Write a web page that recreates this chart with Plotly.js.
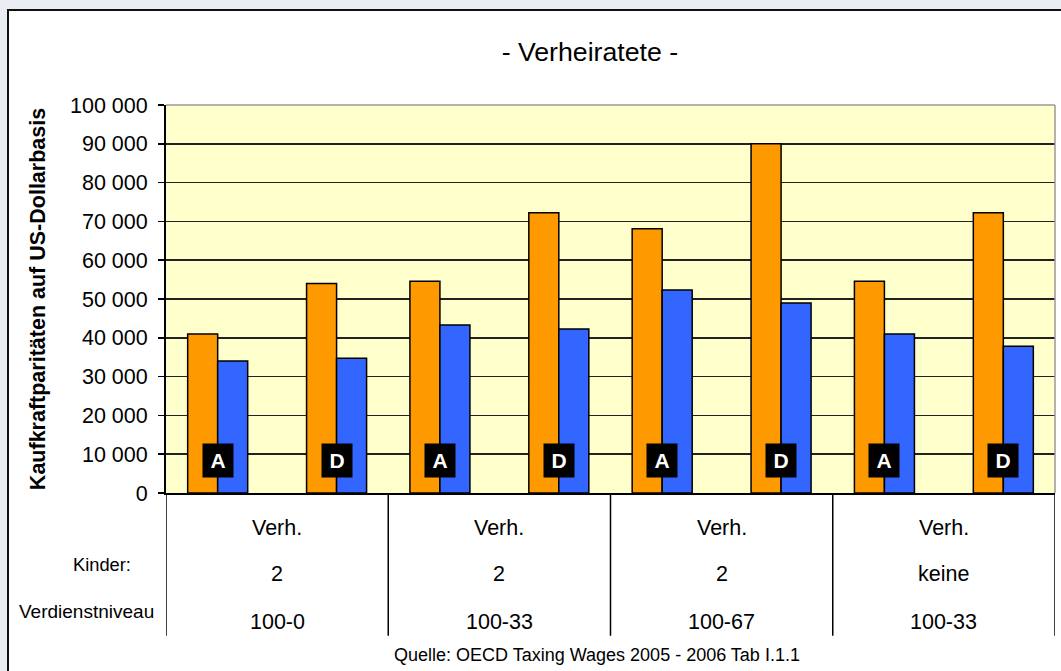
<!DOCTYPE html>
<html>
<head>
<meta charset="utf-8">
<script src="https://cdn.plot.ly/plotly-3.0.1.min.js"></script>
<style>
html,body{margin:0;padding:0;background:#EBEDF5;overflow:hidden;width:1061px;height:671px;}
#frame{position:absolute;left:7px;top:9px;width:1100px;height:720px;background:#fff;border-left:2px solid #111;border-top:2px solid #111;}
#chart{position:absolute;left:0;top:0;width:1061px;height:671px;}
</style>
</head>
<body>
<div id="frame"></div>
<div id="chart"></div>
<script>
// ---- data ----
const barLabels = ['A', 'D', 'A', 'D', 'A', 'D', 'A', 'D'];
const orangeValues = [41000, 54000, 54600, 72200, 68100, 90000, 54600, 72200];
const blueValues = [34000, 34700, 43300, 42300, 52300, 49000, 41000, 37800];
const status = ['Verh.', 'Verh.', 'Verh.', 'Verh.'];
const kinder = ['2', '2', '2', 'keine'];
const niveau = ['100-0', '100-33', '100-67', '100-33'];
const rowLabels = ['Kinder:', 'Verdienstniveau'];
const titleText = '- Verheiratete -';
const yTitle = 'Kaufkraftparitäten auf US-Dollarbasis';
const sourceText = 'Quelle: OECD Taxing Wages 2005 - 2006 Tab I.1.1';

const FONT = 'Arial, "Liberation Sans", sans-serif';
// each group (2 categories wide) holds an A and a D pair, placed symmetric around the group centre
const SPREAD = 0.535;
const groupCenters = status.map((_, g) => 2 * g + 0.5);
const xs = barLabels.map((_, i) => groupCenters[Math.floor(i / 2)] + (i % 2 === 0 ? -SPREAD : SPREAD));
const BW = 0.27;

const traces = [
  {type: 'bar', x: xs, y: orangeValues, width: BW, offset: -BW, marker: {color: '#FF9900', line: {color: '#000', width: 1.5}}, hoverinfo: 'y', showlegend: false},
  {type: 'bar', x: xs, y: blueValues, width: BW, offset: 0, marker: {color: '#3366FF', line: {color: '#000', width: 1.5}}, hoverinfo: 'y', showlegend: false}
];

const annotations = [];
// A / D boxes
barLabels.forEach((t, i) => {
  annotations.push({x: xs[i], y: 8500, xref: 'x', yref: 'y', text: '<b>' + t + '</b>', showarrow: false,
    font: {family: FONT, size: 21, color: '#fff'}, bgcolor: '#000', width: 30, height: 33, borderpad: 0,
    xanchor: 'center', yanchor: 'middle'});
});
// category table
const rowsY = [-0.0902, -0.2088, -0.3325];
[status, kinder, niveau].forEach((row, r) => {
  row.forEach((t, g) => {
    annotations.push({x: groupCenters[g], y: rowsY[r], xref: 'x', yref: 'paper', text: t, showarrow: false,
      font: {family: FONT, size: 21.5, color: '#000'}, xanchor: 'center', yanchor: 'middle'});
  });
});
// row labels
annotations.push({x: -0.0371, y: -0.183, xref: 'paper', yref: 'paper', text: rowLabels[0], showarrow: false,
  font: {family: FONT, size: 18.3, color: '#000'}, xanchor: 'right', yanchor: 'middle'});
annotations.push({x: -0.01125, y: -0.3067, xref: 'paper', yref: 'paper', text: rowLabels[1], showarrow: false,
  font: {family: FONT, size: 19, color: '#000'}, xanchor: 'right', yanchor: 'middle'});
// source
annotations.push({x: 0.4843, y: -0.4175, xref: 'paper', yref: 'paper', text: sourceText, showarrow: false,
  font: {family: FONT, size: 18, color: '#000'}, xanchor: 'center', yanchor: 'middle'});

const shapes = [];
// table vertical lines
[-0.5, 1.5, 3.5, 5.5, 7.5].forEach(x => {
  shapes.push({type: 'line', xref: 'x', yref: 'paper', x0: x, x1: x, y0: 0, y1: -0.368, line: {color: '#000', width: 1.5}});
});
// plot frame top/right gray
shapes.push({type: 'line', xref: 'paper', yref: 'paper', x0: 0, x1: 1, y0: 1, y1: 1, line: {color: '#999', width: 1.5}});
shapes.push({type: 'line', xref: 'paper', yref: 'paper', x0: 1, x1: 1, y0: 0, y1: 1, line: {color: '#999', width: 1.5}});

const layout = {
  width: 1061, height: 671,
  margin: {l: 166, r: 6, t: 105, b: 178, pad: 0},
  paper_bgcolor: 'rgba(0,0,0,0)',
  plot_bgcolor: '#FFFFCC',
  separators: ', ',
  font: {family: FONT, color: '#000'},
  title: {text: titleText, font: {family: FONT, size: 26.7, color: '#000'}, x: 0.556, xanchor: 'center', y: 0.9225, yanchor: 'middle', xref: 'container', yref: 'container'},
  barmode: 'overlay',
  xaxis: {range: [-0.5, 7.5], showticklabels: false, ticks: '', showgrid: false, zeroline: false,
    showline: true, linecolor: '#000', linewidth: 2, fixedrange: true},
  yaxis: {range: [0, 100000], dtick: 10000, tickformat: ',d', ticks: 'outside', ticklen: 6, tickwidth: 1.5, tickcolor: '#000',
    showgrid: true, gridcolor: '#222', gridwidth: 1.5, zeroline: false, showline: true, linecolor: '#000', linewidth: 2,
    tickfont: {family: FONT, size: 21.5, color: '#000'}, ticklabelstandoff: 6,
    title: {text: '<b>' + yTitle + '</b>', font: {family: FONT, size: 21.5, color: '#000'}, standoff: 18}, fixedrange: true},
  annotations: annotations,
  shapes: shapes
};

Plotly.newPlot('chart', traces, layout, {displayModeBar: false, staticPlot: true});
</script>
</body>
</html>
